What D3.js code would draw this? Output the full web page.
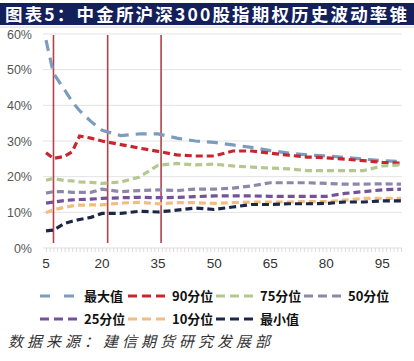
<!DOCTYPE html>
<html>
<head>
<meta charset="utf-8">
<script src="https://cdn.jsdelivr.net/npm/d3@7/dist/d3.min.js"></script>
<style>
  html, body { margin: 0; padding: 0; background: #fff; }
  svg { display: block; font-family: "Liberation Sans", Arial, sans-serif; }
</style>
</head>
<body>
<svg id="chart" width="414" height="361"></svg>
<script>
const W = 414, H = 361;
const svg = d3.select("#chart");

// 天数 (x)
const dias = [5, 7, 10, 12, 14, 17, 20, 25, 30, 35, 40, 45, 50, 55, 60, 65, 70, 75, 80, 85, 90, 95, 100];

const maximo = [58.3, 49, 44.3, 41, 38.5, 35.5, 33, 31.5, 32, 32, 30.8, 30, 29.6, 28.9, 28.2, 27.3, 26.6, 26.1, 25.8, 25.4, 24.9, 24.5, 24.2];
const p90 = [26.7, 25.1, 25.7, 27, 31.4, 30.8, 30, 29, 28, 27.1, 26.1, 25.8, 25.8, 27.2, 27.2, 26.6, 26, 25.5, 25.3, 24.9, 24.5, 24, 23.8];
const p75 = [19, 19.5, 18.9, 18.8, 18.5, 18.4, 18.1, 18.5, 19.9, 23.2, 23.7, 23.3, 23.5, 23, 22.7, 22.4, 22.2, 21.7, 21.7, 21.7, 21.7, 23, 23.3];
const p50 = [15.4, 15.8, 15.8, 15.6, 15.6, 15.6, 16.5, 15.8, 16.1, 16.3, 16.1, 16.5, 16.5, 16.8, 17.4, 18.3, 18.3, 18.3, 18.1, 17.9, 17.9, 18, 17.9];
const p25 = [12.6, 12.9, 13.3, 13.5, 13.6, 13.7, 13.9, 14.1, 14.2, 14.1, 14.2, 14.4, 14.6, 14.6, 14.6, 14.5, 14.5, 14.5, 14.5, 15.3, 15.8, 16.3, 16.5];
const p10 = [9.9, 10.7, 11.4, 11.8, 12, 12.1, 12.1, 12.6, 12.8, 12.4, 12.7, 12.7, 12.5, 12.7, 12.9, 12.9, 12.9, 13, 13, 13.4, 13.9, 13.9, 13.9];
const minimo = [4.8, 5, 6.9, 7.5, 8, 8.6, 9.7, 9.7, 10.3, 10.1, 10.6, 11.2, 10.8, 11.5, 12.2, 12.2, 12.4, 12.4, 12.5, 12.9, 12.9, 13.2, 13.2];

const nombres = ["最大值", "90分位", "75分位", "50分位", "25分位", "10分位", "最小值"];
const valores = [maximo, p90, p75, p50, p25, p10, minimo];
const colores = ["#7c9cbd", "#c8262f", "#b3c78e", "#8d88a9", "#74519a", "#f1bd80", "#1b2747"];
const guiones = ["11,7", "7,4", "7,4", "7,4", "7,4", "7,4", "7,4"];

const yTicks = [0, 10, 20, 30, 40, 50, 60];
const xTicks = [5, 20, 35, 50, 65, 80, 95];
const marcas = [7, 21.5, 35.8]; // líneas rojas verticales

const titulo = "图表5：中金所沪深300股指期权历史波动率锥";
const fuente = "数据来源：建信期货研究发展部";

// escalas
const x = d3.scaleLinear().domain([5, 100]).range([46, 401]);
const y = d3.scaleLinear().domain([0, 60]).range([248, 34]);

// título
svg.append("rect").attr("x", 0).attr("y", 3).attr("width", W).attr("height", 22).attr("fill", "#13205a");
svg.append("text")
  .attr("x", 5).attr("y", 20.5)
  .attr("fill", "#fff")
  .attr("font-family", "'Noto Sans CJK SC', sans-serif")
  .attr("font-weight", 700)
  .attr("font-size", 17.5)
  .attr("textLength", 402)
  .attr("lengthAdjust", "spacing")
  .text(titulo);
svg.append("line").attr("x1", 0).attr("x2", W).attr("y1", 27).attr("y2", 27).attr("stroke", "#c9ccd6").attr("stroke-width", 0.8);

// rejilla
svg.append("g").selectAll("line")
  .data(yTicks.filter(d => d > 0))
  .join("line")
  .attr("x1", 43).attr("x2", 402)
  .attr("y1", d => y(d)).attr("y2", d => y(d))
  .attr("stroke", "#e3e3e3").attr("stroke-width", 1);

// eje y
svg.append("g").selectAll("text")
  .data(yTicks)
  .join("text")
  .attr("x", 32).attr("y", d => y(d) + 4.5)
  .attr("text-anchor", "end")
  .attr("font-size", 12.5)
  .attr("fill", "#555")
  .text(d => d + "%");

// eje x
const xAxis = d3.axisBottom(x).tickValues(d3.range(5, 101)).tickSize(4).tickFormat("");
const gx = svg.append("g").attr("transform", `translate(0,${y(0)})`).call(xAxis);
gx.select(".domain").attr("stroke", "#ddd").attr("d", "M43,0H402");
gx.selectAll(".tick line").attr("stroke", "#e2d8dd");

svg.append("g").selectAll("text")
  .data(xTicks)
  .join("text")
  .attr("x", d => x(d)).attr("y", 268)
  .attr("text-anchor", "middle")
  .attr("font-size", 13.5)
  .attr("fill", "#333")
  .text(d => d);

// líneas rojas
svg.append("g").selectAll("line")
  .data(marcas)
  .join("line")
  .attr("x1", d => x(d)).attr("x2", d => x(d))
  .attr("y1", 35).attr("y2", 243)
  .attr("stroke", "#b5404c").attr("stroke-width", 1.6);

// series
const linea = d3.line().x((d, i) => x(dias[i])).y(d => y(d));
const gSeries = svg.append("g");
valores.forEach((serie, k) => {
  gSeries.append("path")
    .datum(serie)
    .attr("d", linea)
    .attr("fill", "none")
    .attr("stroke", colores[k])
    .attr("stroke-width", 3.2)
    .attr("stroke-dasharray", guiones[k]);
});

// leyenda
const leyenda = svg.append("g").attr("font-family", "'Noto Sans CJK SC', sans-serif");
nombres.forEach((n, k) => {
  const col = k < 4 ? k : k - 4;
  const fila = k < 4 ? 0 : 1;
  const lx = 40 + col * 88;
  const ly = fila === 0 ? 296 : 319;
  leyenda.append("line")
    .attr("x1", lx).attr("x2", lx + 40)
    .attr("y1", ly).attr("y2", ly)
    .attr("stroke", colores[k]).attr("stroke-width", 3.2)
    .attr("stroke-dasharray", k === 0 ? "10,14" : "9,5");
  leyenda.append("text")
    .attr("x", lx + 44).attr("y", ly + 5)
    .attr("font-size", 13).attr("font-weight", 700)
    .attr("fill", "#111")
    .text(n);
});

// fuente
svg.append("text")
  .attr("x", 8).attr("y", 347)
  .attr("font-family", "'Noto Sans CJK SC', sans-serif")
  .attr("font-style", "italic")
  .attr("font-size", 15)
  .attr("fill", "#333")
  .attr("textLength", 262)
  .attr("lengthAdjust", "spacing")
  .text(fuente);
</script>
</body>
</html>
